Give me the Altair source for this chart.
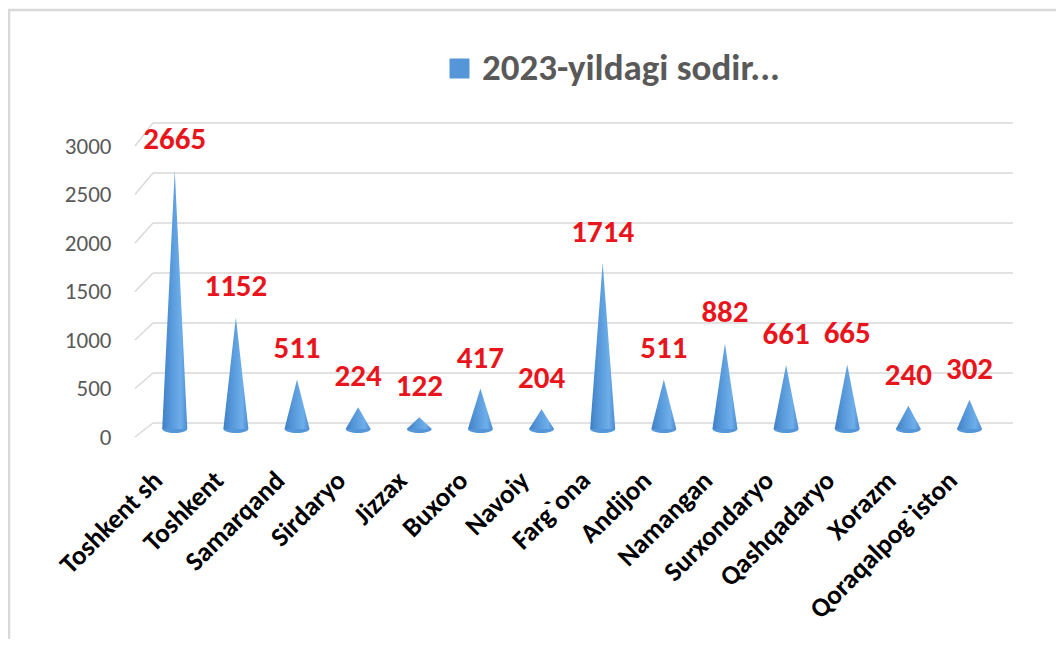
import altair as alt
import pandas as pd

regions = ["Toshkent sh", "Toshkent", "Samarqand", "Sirdaryo", "Jizzax", "Buxoro",
           "Navoiy", "Farg`ona", "Andijon", "Namangan", "Surxondaryo", "Qashqadaryo",
           "Xorazm", "Qoraqalpog`iston"]
values = [2665, 1152, 511, 224, 122, 417, 204, 1714, 511, 882, 661, 665, 240, 302]
series_name = "2023-yildagi sodir..."
y_ticks = [0, 500, 1000, 1500, 2000, 2500, 3000]

FONT = "Carlito, Lato, sans-serif"
BLUE = "#5596d8"
HALF = 0.205  # half cone base width in category units

cone_rows = []
for i, (r, v) in enumerate(zip(regions, values)):
    cone_rows += [
        {"region": r, "x": i - HALF, "v": 0},
        {"region": r, "x": i, "v": v},
        {"region": r, "x": i + HALF, "v": 0},
    ]
cones_df = pd.DataFrame(cone_rows)
pts_df = pd.DataFrame({"region": regions, "x": list(range(len(regions))), "v": values,
                       "zero": [0] * len(regions),
                       "series": [series_name] * len(regions)})
grid_df = pd.DataFrame({"v": y_ticks, "lo": [t * 0.97 - 140 for t in y_ticks]})
frame_df = pd.DataFrame({"a": [0]})

xscale = alt.Scale(domain=[-0.65, 13.45], nice=False, zero=False)
yscale = alt.Scale(domain=[0, 3000], nice=False)
gscale = alt.Scale(domain=[-60, 2850], nice=False, zero=False)

label_expr = "[" + ",".join("'" + r + "'" for r in regions) + "][datum.value]"

xaxis = alt.Axis(values=list(range(len(regions))), labelExpr=label_expr,
                 labelAngle=-45, labelAlign="right", labelBaseline="middle",
                 labelFont=FONT, labelFontSize=27, labelFontWeight="bold",
                 labelColor="#000000", labelPadding=47, labelOffset=-17,
                 labelOverlap=False, labelLimit=400, grid=False, domain=False,
                 ticks=False, title=None)
yaxis = alt.Axis(values=y_ticks, format="d", labelOffset=8, labelPadding=24,
                 labelFont=FONT, labelFontSize=23, labelColor="#595959",
                 labelOverlap=False, grid=False, domain=False, ticks=False, title=None)

frame = alt.Chart(frame_df).mark_rect(fill="transparent", stroke="#d9d9d9", strokeWidth=2.5).encode(
    x=alt.value(-126), x2=alt.value(960), y=alt.value(-128), y2=alt.value(560))

grid = alt.Chart(grid_df).mark_rule(color="#d9d9d9", strokeWidth=1.5).encode(
    y=alt.Y("v:Q", scale=gscale, axis=None),
    x=alt.value(18), x2=alt.value(878))

diag = alt.Chart(grid_df).mark_rule(color="#d9d9d9", strokeWidth=1.5).encode(
    x=alt.value(0), x2=alt.value(18),
    y=alt.Y("lo:Q", scale=gscale, axis=None), y2="v:Q")

back = alt.layer(frame, grid, diag)

cones = alt.Chart(cones_df).mark_area(
    color=alt.Gradient(gradient="linear",
                       stops=[alt.GradientStop(color="#3f7fc6", offset=0),
                              alt.GradientStop(color="#5798da", offset=0.35),
                              alt.GradientStop(color="#6eaeea", offset=0.75),
                              alt.GradientStop(color="#4a8ad0", offset=1)],
                       x1=0, x2=1, y1=0, y2=0)
).encode(
    x=alt.X("x:Q", scale=xscale, axis=xaxis),
    y=alt.Y("v:Q", scale=yscale, stack=None, axis=yaxis),
    detail="region:N")

legend = alt.Legend(orient="none", legendX=306, legendY=-88,
                    title=None, symbolType="square", symbolSize=400,
                    symbolStrokeWidth=0, labelFont=FONT,
                    labelFontSize=37, labelFontWeight="bold",
                    labelColor="#595959", labelOffset=4,
                    labelLimit=600, padding=0)

bases = alt.Chart(pts_df).mark_point(
    shape="M -1 0 A 1 0.32 0 0 0 1 0 Z", size=625, filled=True, opacity=1
).encode(
    x=alt.X("x:Q", scale=xscale, axis=xaxis),
    y=alt.Y("zero:Q", scale=yscale, axis=yaxis),
    color=alt.Color("series:N", scale=alt.Scale(range=[BLUE]), legend=legend))

labels = alt.Chart(pts_df).mark_text(
    font=FONT, fontSize=31, fontWeight="bold", color="#e8161c",
    baseline="alphabetic", dy=-21
).encode(
    x=alt.X("x:Q", scale=xscale, axis=xaxis),
    y=alt.Y("v:Q", scale=yscale, axis=yaxis),
    text="v:Q")

front = alt.layer(cones, bases, labels)

chart = alt.layer(back, front).resolve_scale(y="independent").properties(
    width=862, height=291,
    background="#ffffff",
    autosize=alt.AutoSizeParams(type="none"),
    padding={"left": 127, "top": 130, "right": 59, "bottom": 210},
).configure_view(strokeWidth=0)

chart.save("out.html", embed_options={"renderer": "svg", "actions": False})
